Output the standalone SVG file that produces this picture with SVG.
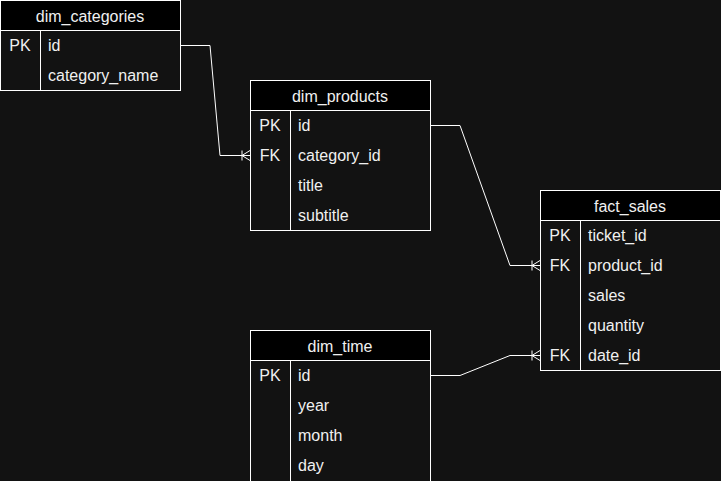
<svg xmlns="http://www.w3.org/2000/svg" width="721" height="481" viewBox="0 0 721 481">
<style>
.bg{fill:#121212}
.box{fill:#121212;stroke:#ffffff;stroke-width:1}
.hdr{fill:#000000;stroke:#ffffff;stroke-width:1}
.ln{stroke:#ffffff;stroke-width:1;fill:none}
text{font-family:"Liberation Sans",Arial,sans-serif;font-size:16px;fill:#f0f0f0;dominant-baseline:central}
.c{text-anchor:middle}
.conn{stroke:#ffffff;stroke-width:1;fill:none}
</style>
<defs>
<marker id="many" viewBox="0 0 10 12" refX="10" refY="6" markerWidth="10" markerHeight="12" markerUnits="userSpaceOnUse" orient="auto" overflow="visible">
<path d="M2,1 L2,11 M2,6 L10,1 M2,6 L10,11 M2,6 L10,6" stroke="#ffffff" stroke-width="1" fill="none"/>
</marker>
</defs>
<rect class="bg" x="0" y="0" width="721" height="481"/>
<g id="connectors">
<path class="conn" d="M180,45.5 L210,45.5 L220,155.5 L250,155.5" marker-end="url(#many)"/>
<path class="conn" d="M430,125.5 L460,125.5 L510,265.5 L540,265.5" marker-end="url(#many)"/>
<path class="conn" d="M430,375.5 L460,375.5 L510,355.5 L540,355.5" marker-end="url(#many)"/>
</g>
<g id="dim_categories">
<rect class="box" x="0.5" y="0.5" width="180" height="90"/>
<rect class="hdr" x="0.5" y="0.5" width="180" height="30"/>
<line class="ln" x1="40.5" y1="30.5" x2="40.5" y2="90.5"/>
<text class="c" x="90" y="16">dim_categories</text>
<text class="c" x="20" y="45">PK</text>
<text x="48" y="45">id</text>
<text x="48" y="75">category_name</text>
</g>
<g id="dim_products">
<rect class="box" x="250.5" y="80.5" width="180" height="150"/>
<rect class="hdr" x="250.5" y="80.5" width="180" height="30"/>
<line class="ln" x1="290.5" y1="110.5" x2="290.5" y2="230.5"/>
<text class="c" x="340" y="96">dim_products</text>
<text class="c" x="270" y="125">PK</text>
<text x="298" y="125">id</text>
<text class="c" x="270" y="155">FK</text>
<text x="298" y="155">category_id</text>
<text x="298" y="185">title</text>
<text x="298" y="215">subtitle</text>
</g>
<g id="fact_sales">
<rect class="box" x="540.5" y="190.5" width="180" height="180"/>
<rect class="hdr" x="540.5" y="190.5" width="180" height="30"/>
<line class="ln" x1="580.5" y1="220.5" x2="580.5" y2="370.5"/>
<text class="c" x="630" y="206">fact_sales</text>
<text class="c" x="560" y="235">PK</text>
<text x="588" y="235">ticket_id</text>
<text class="c" x="560" y="265">FK</text>
<text x="588" y="265">product_id</text>
<text x="588" y="295">sales</text>
<text x="588" y="325">quantity</text>
<text class="c" x="560" y="355">FK</text>
<text x="588" y="355">date_id</text>
</g>
<g id="dim_time">
<rect class="box" x="250.5" y="330.5" width="180" height="160"/>
<rect class="hdr" x="250.5" y="330.5" width="180" height="30"/>
<line class="ln" x1="290.5" y1="360.5" x2="290.5" y2="490"/>
<text class="c" x="340" y="346">dim_time</text>
<text class="c" x="270" y="375">PK</text>
<text x="298" y="375">id</text>
<text x="298" y="405">year</text>
<text x="298" y="435">month</text>
<text x="298" y="465">day</text>
</g>
</svg>
